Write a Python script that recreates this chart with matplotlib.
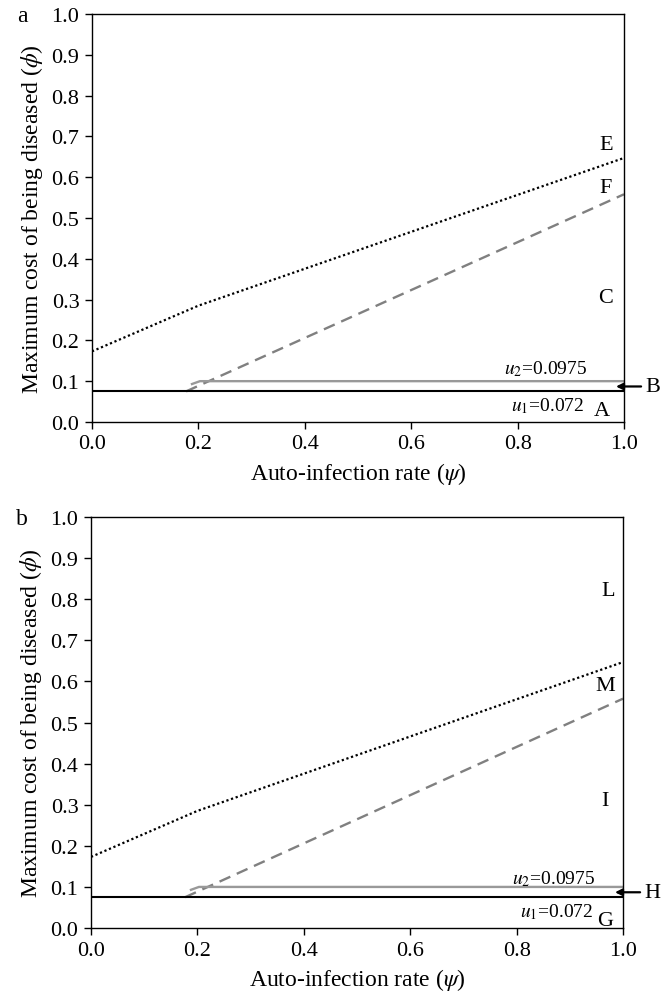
import numpy as np
import matplotlib
matplotlib.use("Agg")
import matplotlib.pyplot as plt

plt.rcParams['font.family'] = ['Liberation Serif', 'DejaVu Serif']
plt.rcParams['mathtext.fontset'] = 'stix'

# boundary curves
dotted_x = [0.0, 0.2, 1.0]
dotted_y = [0.173, 0.285, 0.647]
dashed_x = [0.177, 1.0]
dashed_y = [0.075, 0.558]
u2_x = [0.188, 0.203, 1.0]
u2_y = [0.093, 0.1, 0.1]
u1_x = [0.0, 1.0]
u1_y = [0.075, 0.075]

xticks = [0.0, 0.2, 0.4, 0.6, 0.8, 1.0]
yticks = [0.0, 0.1, 0.2, 0.3, 0.4, 0.5, 0.6, 0.7, 0.8, 0.9, 1.0]

panels = ['a', 'b']
region_labels = [
    [('E', 0.966, 0.68), ('F', 0.966, 0.575), ('C', 0.966, 0.305)],
    [('L', 0.972, 0.822), ('M', 0.966, 0.59), ('I', 0.966, 0.31)],
]
bottom_labels = [('A', 0.958, 0.016), ('G', 0.966, 0.008)]
u2_pos = [(0.774, 0.12), (0.792, 0.108)]
u1_pos = [(0.787, 0.028), (0.806, 0.029)]
arrow_labels = ['B', 'H']

fig = plt.figure(figsize=(6.66, 9.95), dpi=100)
axes_pos = [[0.1381, 0.5749, 0.7988, 0.4101], [0.1366, 0.0663, 0.7988, 0.4131]]

fs = 16
for i in range(2):
    ax = fig.add_axes(axes_pos[i])
    ax.plot(dotted_x, dotted_y, color='black', linestyle=(0, (1, 1.2)), linewidth=1.6)
    ax.plot(dashed_x, dashed_y, color='#808080', linestyle=(0, (5, 3)), linewidth=1.7)
    ax.plot(u2_x, u2_y, color='#999999', linewidth=1.7)
    ax.plot(u1_x, u1_y, color='black', linewidth=1.5)

    ax.set_xlim(0, 1)
    ax.set_ylim(0, 1)
    ax.set_xticks(xticks)
    ax.set_yticks(yticks)
    ax.set_xticklabels(['%.1f' % v for v in xticks])
    ax.set_yticklabels(['%.1f' % v for v in yticks])
    ax.tick_params(direction='out', length=5, width=1, labelsize=fs, top=False, right=False, pad=4)
    for s in ax.spines.values():
        s.set_linewidth(1.0)
    ax.set_xlabel(r'Auto-infection rate ($\psi$)', fontsize=17, labelpad=5)
    ax.set_ylabel(r'Maximum cost of being diseased ($\phi$)', fontsize=17, labelpad=5)

    for lab, x, y in region_labels[i]:
        ax.text(x, y, lab, fontsize=fs, ha='center', va='center')
    lab, x, y = bottom_labels[i]
    ax.text(x, y, lab, fontsize=fs, ha='center', va='baseline')
    ax.text(u2_pos[i][0], u2_pos[i][1], r'$u_2$=0.0975', fontsize=14, ha='left', va='baseline')
    ax.text(u1_pos[i][0], u1_pos[i][1], r'$u_1$=0.072', fontsize=14, ha='left', va='baseline')

    ax.annotate(arrow_labels[i], xy=(0.985, 0.087), xytext=(1.04, 0.087),
                fontsize=fs, ha='left', va='center', annotation_clip=False,
                arrowprops=dict(arrowstyle='-|>', color='black', lw=1.6,
                                mutation_scale=10, shrinkA=1, shrinkB=0))

    fig.text(0.033, axes_pos[i][1] + axes_pos[i][3] - 0.002, panels[i],
             fontsize=17, ha='center', va='center')

fig.savefig('out.png', dpi=100)
